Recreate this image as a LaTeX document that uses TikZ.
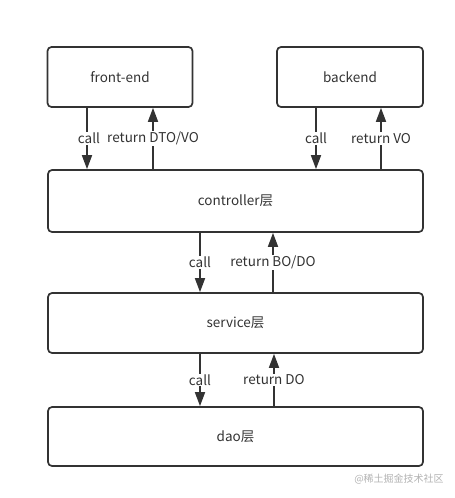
\documentclass[tikz,border=0pt]{standalone}
\usepackage{fontspec}
\setmainfont{Noto Sans CJK SC}
\usepackage{tikz}
\usetikzlibrary{arrows.meta, positioning, calc}
\definecolor{ink}{HTML}{333333}
\tikzset{
  box/.style  = {draw=ink, line width=1.7pt, rounded corners=4pt, text=ink,
                 font=\fontsize{13.5}{15}\selectfont, inner sep=0pt},
  fl/.style   = {-{Triangle[length=14pt, width=10pt]}, draw=ink, line width=1.7pt},
  lbl/.style  = {fill=white, text=ink, inner sep=1pt,
                 font=\fontsize{13.5}{15}\selectfont},
}

\begin{document}
\begin{tikzpicture}[x=1pt, y=-1pt]
  \useasboundingbox (0,0) rectangle (455,498);
  \node[box, minimum width=145pt, minimum height=60pt] (fe)  at (120,77)    {front-end};
  \node[box, minimum width=146pt, minimum height=60pt] (be)  at (350,77)    {backend};
  \node[box, minimum width=375pt, minimum height=62pt] (ctl) at (235.5,201) {controller层};
  \node[box, minimum width=375pt, minimum height=60pt] (svc) at (235.5,323) {service层};
  \node[box, minimum width=375pt, minimum height=59pt] (dao) at (235.5,436.5) {dao层};
  % front-end <-> controller
  \draw[fl] ([xshift=-33pt]fe.south) -- ([xshift=-33pt]fe.south |- ctl.north)
            node[lbl, midway, xshift=2pt] {call};
  \draw[fl] ([xshift=33pt]fe.south |- ctl.north) -- ([xshift=33pt]fe.south)
            node[lbl, midway] {return DTO/VO};
  % backend <-> controller
  \draw[fl] ([xshift=-34pt]be.south) -- ([xshift=-34pt]be.south |- ctl.north)
            node[lbl, midway] {call};
  \draw[fl] ([xshift=31pt]be.south |- ctl.north) -- ([xshift=31pt]be.south)
            node[lbl, midway] {return VO};
  % controller <-> service
  \draw[fl] ([xshift=-35.5pt]ctl.south) -- ([xshift=-35.5pt]ctl.south |- svc.north)
            node[lbl, midway] {call};
  \draw[fl] ([xshift=37.5pt]ctl.south |- svc.north) -- ([xshift=37.5pt]ctl.south)
            node[lbl, midway] {return BO/DO};
  % service <-> dao
  \draw[fl] ([xshift=-35.5pt]svc.south) -- ([xshift=-35.5pt]svc.south |- dao.north)
            node[lbl, midway] {call};
  \draw[fl] ([xshift=38.5pt]svc.south |- dao.north) -- ([xshift=38.5pt]svc.south)
            node[lbl, midway] {return DO};
  \node[text=black!30, font=\fontsize{10}{12}\selectfont] (wm) at (399,479) {@稀土掘金技术社区};
\end{tikzpicture}
\end{document}
